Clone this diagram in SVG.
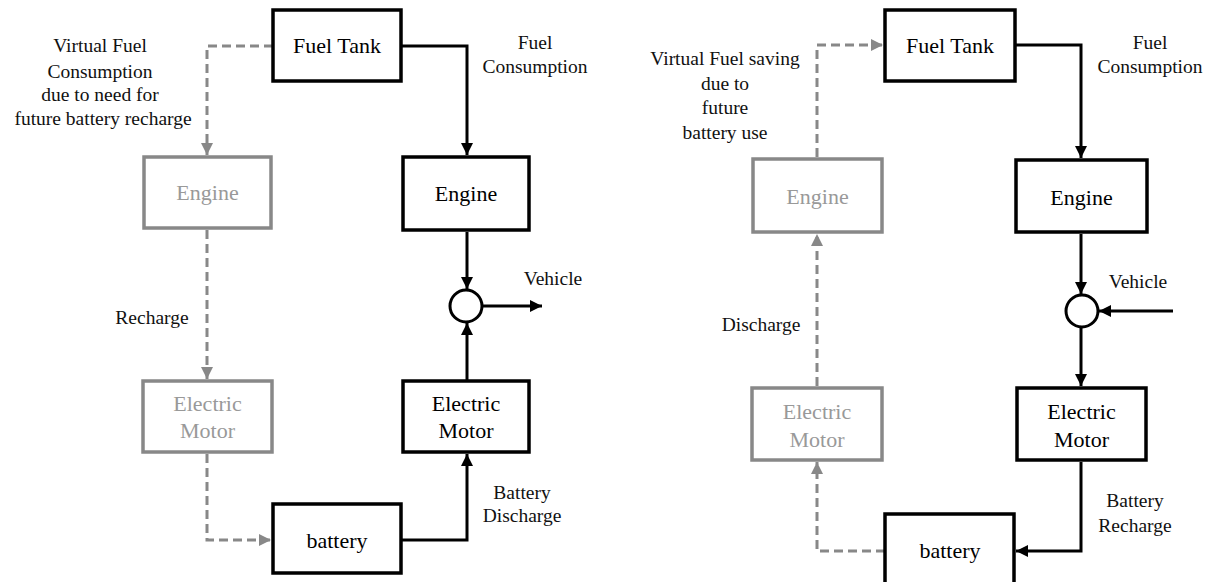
<svg xmlns="http://www.w3.org/2000/svg" width="1211" height="582" viewBox="0 0 1211 582" font-family="'Liberation Serif', 'Times New Roman', Tinos, 'DejaVu Serif', serif">
<style>
.box{fill:#fff;stroke:#000;stroke-width:3.5}
.gbox{fill:#fff;stroke:#888;stroke-width:3.5}
text{font-family:'Liberation Serif','Times New Roman',Tinos,'DejaVu Serif',serif}
.nt{font-size:22px;fill:#000;text-anchor:middle}
.gnt{font-size:22px;fill:#999;text-anchor:middle}
.lb{font-size:19.5px;fill:#111;text-anchor:middle}
.ln{fill:none;stroke:#000;stroke-width:3}
.dl{fill:none;stroke:#888;stroke-width:3;stroke-dasharray:9 5}
</style>
<defs>
<marker id="ah" viewBox="0 0 10 10" refX="10" refY="5" markerWidth="4" markerHeight="4" orient="auto" markerUnits="strokeWidth"><path d="M0,0 L10,5 L0,10 z" fill="#000"/></marker>
<marker id="gah" viewBox="0 0 10 10" refX="10" refY="5" markerWidth="4" markerHeight="4" orient="auto" markerUnits="strokeWidth"><path d="M0,0 L10,5 L0,10 z" fill="#888"/></marker>
</defs>
<rect width="1211" height="582" fill="#fff"/>
<g id="connectors">
<path class="dl" d="M273,46 H207 V155" marker-end="url(#gah)"/>
<path class="dl" d="M207,230 V379" marker-end="url(#gah)"/>
<path class="dl" d="M207,454 V540 H271" marker-end="url(#gah)"/>
<path class="ln" d="M401,46 H467 V155" marker-end="url(#ah)"/>
<path class="ln" d="M467,232 V289" marker-end="url(#ah)"/>
<path class="ln" d="M483,306 H542" marker-end="url(#ah)"/>
<path class="ln" d="M401,540 H467 V454" marker-end="url(#ah)"/>
<path class="ln" d="M467,380 V323" marker-end="url(#ah)"/>
<path class="dl" d="M817,157 V45 H883" marker-end="url(#gah)"/>
<path class="dl" d="M817,386 V234" marker-end="url(#gah)"/>
<path class="dl" d="M885,551 H817 V462" marker-end="url(#gah)"/>
<path class="ln" d="M1015,45 H1081 V158" marker-end="url(#ah)"/>
<path class="ln" d="M1081,234 V294" marker-end="url(#ah)"/>
<path class="ln" d="M1173,311 H1099" marker-end="url(#ah)"/>
<path class="ln" d="M1081,328 V386" marker-end="url(#ah)"/>
<path class="ln" d="M1081,462 V551 H1016" marker-end="url(#ah)"/>
</g>
<g id="left-fuel-tank"><rect class="box" x="273" y="10" width="128" height="71"/><text class="nt" x="337" y="53">Fuel Tank</text></g>
<g id="left-engine-virtual"><rect class="gbox" x="144" y="157" width="127" height="71"/><text class="gnt" x="207.5" y="200">Engine</text></g>
<g id="left-motor-virtual"><rect class="gbox" x="143" y="381" width="129" height="71"/><text class="gnt" x="207.5" y="411">Electric</text><text class="gnt" x="207.5" y="438">Motor</text></g>
<g id="left-battery"><rect class="box" x="273" y="504" width="128" height="69"/><text class="nt" x="337" y="548">battery</text></g>
<g id="left-engine"><rect class="box" x="403" y="157" width="126" height="73"/><text class="nt" x="466" y="201">Engine</text></g>
<g id="left-sum"><circle cx="466" cy="306" r="16" fill="#fff" stroke="#000" stroke-width="3"/></g>
<g id="left-motor"><rect class="box" x="403" y="381" width="126" height="71"/><text class="nt" x="466" y="411">Electric</text><text class="nt" x="466" y="438">Motor</text></g>
<g id="left-labels">
<text class="lb" x="100" y="52">Virtual Fuel</text>
<text class="lb" x="100" y="78">Consumption</text>
<text class="lb" x="100" y="101">due to need for</text>
<text class="lb" x="103" y="125">future battery recharge</text>
<text class="lb" x="535" y="49">Fuel</text>
<text class="lb" x="535" y="73">Consumption</text>
<text class="lb" x="152" y="324">Recharge</text>
<text class="lb" x="553" y="285">Vehicle</text>
<text class="lb" x="522" y="499">Battery</text>
<text class="lb" x="522" y="522">Discharge</text>
</g>
<g id="right-fuel-tank"><rect class="box" x="885" y="10" width="130" height="71"/><text class="nt" x="950" y="53">Fuel Tank</text></g>
<g id="right-engine-virtual"><rect class="gbox" x="753" y="159" width="129" height="73"/><text class="gnt" x="817.5" y="204">Engine</text></g>
<g id="right-motor-virtual"><rect class="gbox" x="752" y="388" width="130" height="72"/><text class="gnt" x="817" y="419">Electric</text><text class="gnt" x="817" y="447">Motor</text></g>
<g id="right-battery"><rect class="box" x="885" y="514" width="129" height="90"/><text class="nt" x="950" y="558">battery</text></g>
<g id="right-engine"><rect class="box" x="1016" y="160" width="131" height="72"/><text class="nt" x="1081.5" y="205">Engine</text></g>
<g id="right-sum"><circle cx="1082" cy="311" r="16" fill="#fff" stroke="#000" stroke-width="3"/></g>
<g id="right-motor"><rect class="box" x="1017" y="388" width="129" height="72"/><text class="nt" x="1081.5" y="419">Electric</text><text class="nt" x="1081.5" y="447">Motor</text></g>
<g id="right-labels">
<text class="lb" x="725" y="65">Virtual Fuel saving</text>
<text class="lb" x="725" y="90">due to</text>
<text class="lb" x="725" y="114">future</text>
<text class="lb" x="725" y="139">battery use</text>
<text class="lb" x="1150" y="49">Fuel</text>
<text class="lb" x="1150" y="73">Consumption</text>
<text class="lb" x="761" y="331">Discharge</text>
<text class="lb" x="1138" y="288">Vehicle</text>
<text class="lb" x="1135" y="507">Battery</text>
<text class="lb" x="1135" y="532">Recharge</text>
</g>
</svg>
